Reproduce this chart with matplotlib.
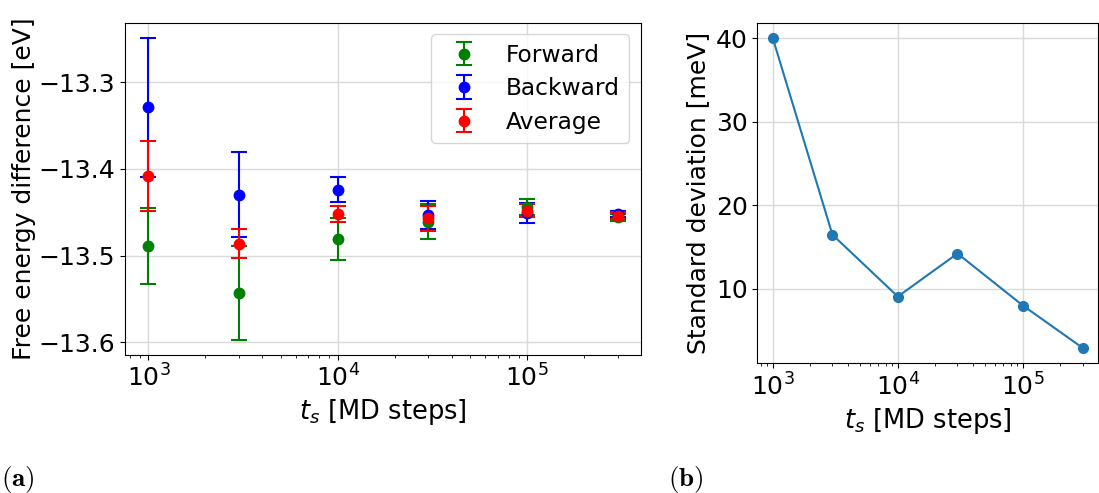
import matplotlib
matplotlib.use("Agg")
import matplotlib.pyplot as plt
import numpy as np

plt.rcParams['mathtext.fontset'] = 'dejavusans'
plt.rcParams['font.size'] = 16

# Data
ts = [1e3, 3e3, 1e4, 3e4, 1e5, 3e5]
fwd = [-13.489, -13.543, -13.481, -13.461, -13.444, -13.456]
fwd_err = [0.044, 0.054, 0.024, 0.020, 0.009, 0.004]
bwd = [-13.329, -13.430, -13.424, -13.453, -13.451, -13.452]
bwd_err = [0.080, 0.049, 0.0145, 0.0165, 0.0115, 0.004]
avg = [-13.408, -13.486, -13.452, -13.457, -13.448, -13.454]
avg_err = [0.040, 0.017, 0.009, 0.014, 0.008, 0.004]
std_mev = [40.0, 16.45, 9.04, 14.2, 7.97, 2.9]

W, H = 1099, 493
fig = plt.figure(figsize=(W/100, H/100), dpi=100)

ax1 = fig.add_axes([125/W, (H-355)/H, (641-125)/W, (355-22.7)/H])
kw = dict(fmt='o', ms=7.5, capsize=6, elinewidth=1.5, capthick=1.5)
ax1.errorbar(ts, fwd, yerr=fwd_err, color='green', label='Forward', **kw)
ax1.errorbar(ts, bwd, yerr=bwd_err, color='blue', label='Backward', **kw)
ax1.errorbar(ts, avg, yerr=avg_err, color='red', label='Average', **kw)
ax1.set_xscale('log')
ax1.set_yticks([-13.3, -13.4, -13.5, -13.6])
ax1.tick_params(labelsize=18)
ax1.grid(True, color='#d9d9d9', linewidth=1)
ax1.set_axisbelow(True)
ax1.set_xlabel(r'$t_s$ [MD steps]', fontsize=18.5)
ax1.set_ylabel('Free energy difference [eV]', fontsize=18, labelpad=1.5)
ax1.legend(loc='upper right', fontsize=16.8, labelspacing=0.45)

ax2 = fig.add_axes([757.3/W, (H-363.3)/H, (1098-757.3)/W, (363.3-22.7)/H])
ax2.plot(ts, std_mev, marker='o', ms=7, lw=1.5, color='C0')
ax2.set_xscale('log')
ax2.set_yticks([10, 20, 30, 40])
ax2.tick_params(labelsize=18)
ax2.grid(True, color='#d9d9d9', linewidth=1)
ax2.set_axisbelow(True)
ax2.set_xlabel(r'$t_s$ [MD steps]', fontsize=18.5)
ax2.set_ylabel('Standard deviation [meV]', fontsize=18)

fig.text(1/W, (H-486)/H, r'$\mathbf{(a)}$', fontsize=19.5, ha='left', va='baseline',
         math_fontfamily='cm')
fig.text(668/W, (H-486)/H, r'$\mathbf{(b)}$', fontsize=19.5, ha='left', va='baseline',
         math_fontfamily='cm')

fig.savefig('out.png', dpi=100)
